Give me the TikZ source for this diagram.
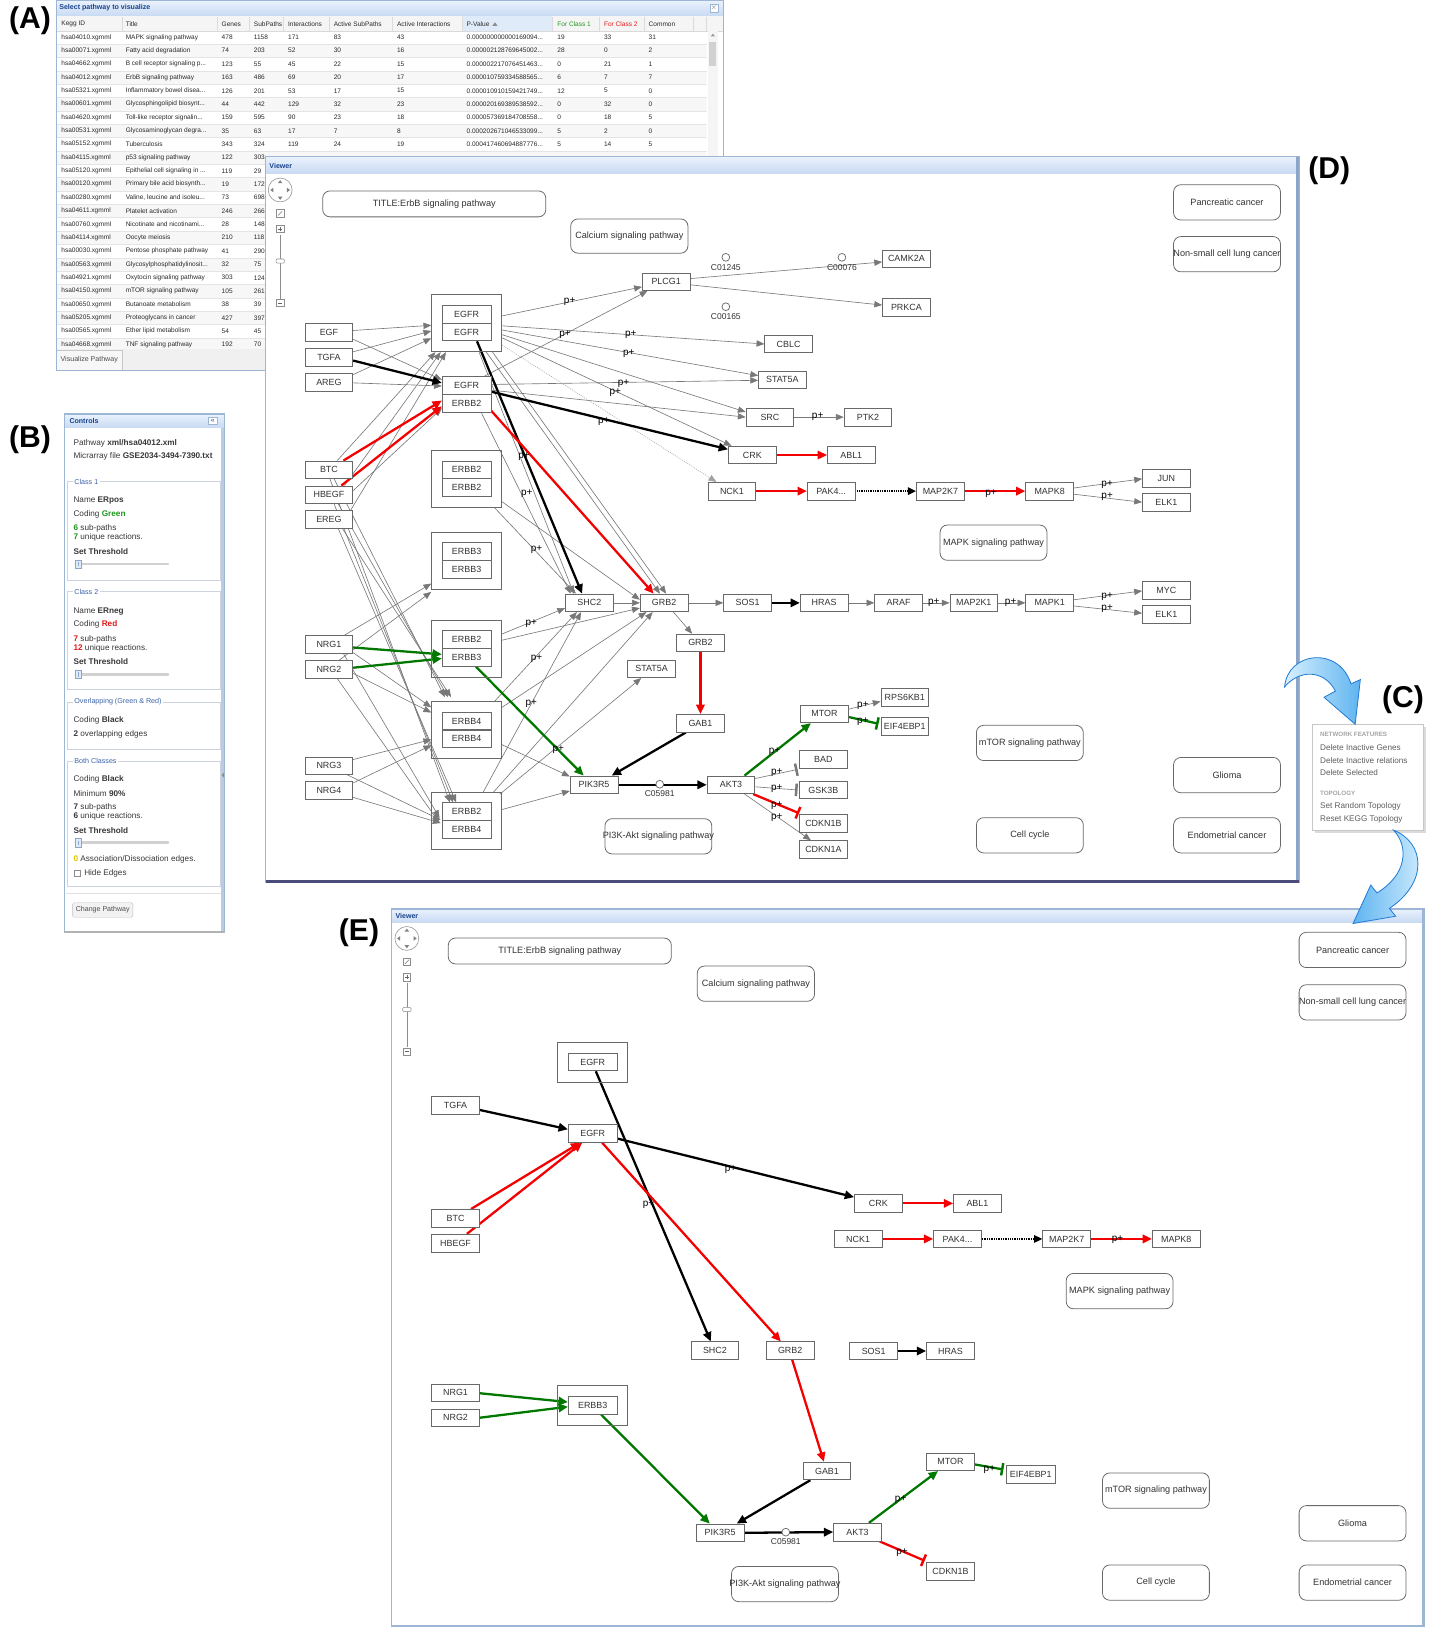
\documentclass[tikz,border=0pt]{standalone}
\usepackage{fontspec}
\setmainfont{Liberation Sans}
\usetikzlibrary{arrows.meta,calc}
\pgfdeclarelayer{bg}
\pgfdeclarelayer{edges}
\pgfsetlayers{bg,edges,main}

\definecolor{boxline}{RGB}{105,105,105}
\definecolor{boxtext}{RGB}{50,50,50}
\definecolor{edgegrey}{RGB}{120,120,120}
\definecolor{kred}{RGB}{245,0,0}
\definecolor{kgreen}{RGB}{0,120,0}
\definecolor{winline}{RGB}{158,182,214}
\definecolor{winedge}{RGB}{140,165,200}
\definecolor{bartop}{RGB}{234,242,253}
\definecolor{barbot}{RGB}{200,218,243}
\definecolor{wintitle}{RGB}{24,66,140}
\definecolor{celltext}{RGB}{40,40,40}
\definecolor{rowline}{RGB}{228,228,228}
\definecolor{headblue}{RGB}{224,235,250}
\definecolor{legendblue}{RGB}{60,100,170}
\definecolor{fieldline}{RGB}{205,212,224}
\definecolor{okgreen}{RGB}{30,150,30}
\definecolor{badred}{RGB}{225,25,25}
\definecolor{zeroyellow}{RGB}{225,195,0}
\definecolor{menugrey}{RGB}{95,95,95}
\definecolor{menuhead}{RGB}{165,165,165}
\definecolor{arrowfill}{RGB}{95,180,240}
\definecolor{arrowdark}{RGB}{35,125,215}
\definecolor{arrowlight}{RGB}{215,240,255}

\newcommand\elide{...}

\tikzset{
  gene/.style={draw=boxline, fill=white, line width=0.75pt, minimum width=46pt,
    minimum height=17pt, inner sep=0pt, text=boxtext, font=\fontsize{8.6}{9}\selectfont},
  shell/.style={draw=boxline, line width=0.75pt, minimum width=67.4pt, inner sep=0pt},
  pathbox/.style={draw=boxline, fill=white, rounded corners=7pt, line width=0.75pt,
    minimum width=103pt, minimum height=34pt, inner sep=0pt, text=boxtext,
    font=\fontsize{8.8}{9}\selectfont},
  cpd/.style={circle, draw=boxline, fill=white, line width=0.7pt, minimum size=7.5pt, inner sep=0pt},
  cpdname/.style={text=boxtext, font=\fontsize{8.2}{9}\selectfont, inner sep=0pt},
  plink/.style={draw=edgegrey, line width=0.6pt, -{Triangle[length=7.5pt,width=6pt]}},
  faint/.style={draw=edgegrey!70, line width=0.5pt, dash pattern=on 1pt off 1pt, -{Triangle[length=7.5pt,width=6pt]}},
  kline/.style={draw=black, line width=2.2pt, -{Triangle[length=9pt,width=8pt]}},
  rline/.style={draw=kred, line width=2.2pt, -{Triangle[length=9pt,width=8pt]}},
  gline/.style={draw=kgreen, line width=2.2pt, -{Triangle[length=9pt,width=8pt]}},
  dotline/.style={draw=black, line width=2.2pt, dash pattern=on 0.9pt off 0.8pt, -{Triangle[length=8pt,width=7pt]}},
  ginhib/.style={draw=edgegrey, line width=0.6pt, -{Bar[width=12pt,line width=2.4pt]}},
  rinhib/.style={draw=kred, line width=2.2pt, -{Bar[width=12pt,line width=2.4pt]}},
  ninhib/.style={draw=kgreen, line width=2.2pt, -{Bar[width=12pt,line width=2.4pt]}},
  pp/.style={text=black, font=\fontsize{9.6}{10}\selectfont, inner sep=0pt},
  panel/.style={font=\fontsize{29}{30}\selectfont\bfseries, text=black, inner sep=0pt},
  cell/.style={anchor=west, inner sep=0pt, text=celltext, font=\fontsize{6.3}{7}\selectfont},
  ctl/.style={anchor=west, inner sep=0pt, text=black!78, font=\fontsize{7.9}{8.5}\selectfont},
  legend/.style={anchor=west, inner sep=1.5pt, fill=white, text=legendblue, font=\fontsize{6.9}{7}\selectfont},
  menuitem/.style={anchor=west, inner sep=0pt, text=menugrey, font=\fontsize{7.9}{8.5}\selectfont},
  menuhd/.style={anchor=west, inner sep=0pt, text=menuhead, font=\fontsize{6}{6.5}\selectfont\bfseries},
  wtitle/.style={anchor=west, inner sep=0pt, text=wintitle, font=\fontsize{6.8}{7}\selectfont\bfseries},
}

% zoom / pan control of a viewer window
\newcommand\viewernav[2]{%
  \draw[black!40, fill=white, line width=0.6pt] (#1,#2) circle (11.5);
  \fill[black!50] (#1-2.2,#2-6.5) -- (#1+2.2,#2-6.5) -- (#1,#2-9.5) -- cycle;
  \fill[black!50] (#1-2.2,#2+6.5) -- (#1+2.2,#2+6.5) -- (#1,#2+9.5) -- cycle;
  \fill[black!50] (#1-6.5,#2-2.2) -- (#1-6.5,#2+2.2) -- (#1-9.5,#2) -- cycle;
  \fill[black!50] (#1+6.5,#2-2.2) -- (#1+6.5,#2+2.2) -- (#1+9.5,#2) -- cycle;
  \draw[black!45, line width=0.5pt, fill=white] (#1-3.5,#2+19) rectangle (#1+3.5,#2+26);
  \draw[black!55, line width=0.5pt] (#1-2,#2+24.5) -- (#1+2,#2+20.5);
  \draw[black!45, line width=0.5pt] (#1,#2+43) -- (#1,#2+105);
  \draw[black!45, line width=0.5pt, fill=white] (#1-3.5,#2+34) rectangle (#1+3.5,#2+41);
  \draw[black!60, line width=0.6pt] (#1-2,#2+37.5) -- (#1+2,#2+37.5) (#1,#2+35.5) -- (#1,#2+39.5);
  \draw[black!45, line width=0.5pt, fill=white, rounded corners=1pt] (#1-4,#2+66.5) rectangle (#1+4,#2+70.5);
  \draw[black!45, line width=0.5pt, fill=white] (#1-3.5,#2+105.5) rectangle (#1+3.5,#2+112.5);
  \draw[black!60, line width=0.6pt] (#1-2,#2+109) -- (#1+2,#2+109);
}

\begin{document}
\begin{tikzpicture}[x=1pt,y=-1pt]
\useasboundingbox (0,0) rectangle (1386,1568);

\begin{pgfonlayer}{bg}
\fill[white] (0,0) rectangle (1386,1568);

%================ pathway table window
\fill[white] (54,0) rectangle (697,357);
\shade[top color=bartop, bottom color=barbot] (54,0) rectangle (697,15.5);
\node[wtitle] (aTitle) at (57,7.8) {Select pathway to visualize};
\node[draw=winline, fill=white, minimum size=8pt, inner sep=0pt, text=black!60] (aClose) at (688,7.8) {\fontsize{7}{7}\selectfont$\times$};
\fill[black!4] (54,15.5) rectangle (697,30);
\fill[headblue] (445,15.5) rectangle (532,30);
\draw[black!15] (54,30) -- (697,30);
\foreach \x in {118,209,240,273,317,378,445,532,577,621,668,681}
  \draw[black!14, line width=0.4pt] (\x,16) -- (\x,30);
\node[cell] (h1) at (59,23) {Kegg ID};
\node[cell] (h2) at (121,23) {Title};
\node[cell] (h3) at (213.5,23) {Genes};
\node[cell] (h4) at (244.5,23) {SubPaths};
\node[cell] (h5) at (277.5,23) {Interactions};
\node[cell] (h6) at (321.5,23) {Active SubPaths};
\node[cell] (h7) at (382.5,23) {Active Interactions};
\node[cell] (h8) at (449.5,23) {P-Value};
\fill[black!45] (474.5,25) -- (479.5,25) -- (477,21.5) -- cycle;
\node[cell, text=okgreen] (h9) at (537,23) {For Class 1};
\node[cell, text=badred] (h10) at (582,23) {For Class 2};
\node[cell] (h11) at (625,23) {Common};
\begin{scope}
  \clip (54,30) rectangle (681,336.5);
  \foreach \i in {2,4,...,24}
    \fill[black!3] (54,{29.6+12.87*(\i-1)}) rectangle (681,{29.6+12.87*\i});
  \foreach \i in {1,...,24}
    \draw[rowline, line width=0.4pt] (54,{29.6+12.87*\i}) -- (681,{29.6+12.87*\i});
  \foreach \vi/\vid/\vti/\vg/\vs/\vin/\vas/\vai/\vp/\vca/\vcb/\vcm in {
    1/hsa04010/MAPK signaling pathway/478/1158/171/83/43/0.000000000000169094\elide/19/33/31,
    2/hsa00071/Fatty acid degradation/74/203/52/30/16/0.000002128769645002\elide/28/0/2,
    3/hsa04662/B cell receptor signaling p\elide/123/55/45/22/15/0.000002217076451463\elide/0/21/1,
    4/hsa04012/ErbB signaling pathway/163/486/69/20/17/0.000010759334588565\elide/6/7/7,
    5/hsa05321/Inflammatory bowel disea\elide/126/201/53/17/15/0.000010910159421749\elide/12/5/0,
    6/hsa00601/Glycosphingolipid biosynt\elide/44/442/129/32/23/0.000020169389538592\elide/0/32/0,
    7/hsa04620/Toll-like receptor signalin\elide/159/595/90/23/18/0.000057369184708558\elide/0/18/5,
    8/hsa00531/Glycosaminoglycan degra\elide/35/63/17/7/8/0.000202671046533099\elide/5/2/0,
    9/hsa05152/Tuberculosis/343/324/119/24/19/0.000417460694887776\elide/5/14/5}{
    \node[cell] (r\vi c1) at (59,{36+12.87*(\vi-1)}) {\vid.xgmml};
    \node[cell] (r\vi c2) at (121,{36+12.87*(\vi-1)}) {\vti};
    \node[cell] (r\vi c3) at (213.5,{36+12.87*(\vi-1)}) {\vg};
    \node[cell] (r\vi c4) at (244.5,{36+12.87*(\vi-1)}) {\vs};
    \node[cell] (r\vi c5) at (277.5,{36+12.87*(\vi-1)}) {\vin};
    \node[cell] (r\vi c6) at (321.5,{36+12.87*(\vi-1)}) {\vas};
    \node[cell] (r\vi c7) at (382.5,{36+12.87*(\vi-1)}) {\vai};
    \node[cell] (r\vi c8) at (449.5,{36+12.87*(\vi-1)}) {\vp};
    \node[cell] (r\vi c9) at (537,{36+12.87*(\vi-1)}) {\vca};
    \node[cell] (r\vi c10) at (582,{36+12.87*(\vi-1)}) {\vcb};
    \node[cell] (r\vi c11) at (625,{36+12.87*(\vi-1)}) {\vcm};
  }
  \foreach \vi/\vid/\vti/\vg/\vs in {
    10/hsa04115/p53 signaling pathway/122/303,
    11/hsa05120/Epithelial cell signaling in \elide/119/29,
    12/hsa00120/Primary bile acid biosynth\elide/19/172,
    {13/hsa00280/Valine, leucine and isoleu\elide/73/698},
    14/hsa04611/Platelet activation/246/266,
    15/hsa00760/Nicotinate and nicotinami\elide/28/148,
    16/hsa04114/Oocyte meiosis/210/118,
    17/hsa00030/Pentose phosphate pathway/41/290,
    18/hsa00563/Glycosylphosphatidylinosit\elide/32/75,
    19/hsa04921/Oxytocin signaling pathway/303/124,
    20/hsa04150/mTOR signaling pathway/105/261,
    21/hsa00650/Butanoate metabolism/38/39,
    22/hsa05205/Proteoglycans in cancer/427/397,
    23/hsa00565/Ether lipid metabolism/54/45,
    24/hsa04668/TNF signaling pathway/192/70}{
    \node[cell] (r\vi c1) at (59,{36+12.87*(\vi-1)}) {\vid.xgmml};
    \node[cell] (r\vi c2) at (121,{36+12.87*(\vi-1)}) {\vti};
    \node[cell] (r\vi c3) at (213.5,{36+12.87*(\vi-1)}) {\vg};
    \node[cell] (r\vi c4) at (244.5,{36+12.87*(\vi-1)}) {\vs};
  }
\end{scope}
% scroll bar
\fill[black!4] (682,30) rectangle (692,336);
\fill[black!18] (683.5,40) rectangle (690.5,64);
\fill[black!40] (685,35) -- (689,35) -- (687,32.5) -- cycle;
% footer with button
\fill[black!6] (54,336.5) rectangle (697,357);
\node[draw=black!22, fill=black!3, minimum width=63pt, minimum height=19pt, inner sep=0pt,
  text=black!70, font=\fontsize{6.8}{7}\selectfont] (aVis) at (86,347) {Visualize Pathway};
\draw[winline, line width=1pt] (54,0) rectangle (697,357);

%================ controls window
\fill[white] (62,399) rectangle (216,898);
\shade[top color=bartop, bottom color=barbot] (62,399) rectangle (216,412);
\node[wtitle] (bTitle) at (66.8,405.8) {Controls};
\node[draw=winline, fill=white, minimum width=8pt, minimum height=7pt, inner sep=0pt,
  text=wintitle, font=\fontsize{6.5}{7}\selectfont] (bCollapse) at (205,405.8) {«};
\node[ctl] (bPath) at (70.7,427.3) {Pathway \textbf{xml/hsa04012.xml}};
\node[ctl] (bFile) at (70.7,440.2) {Micrarray file \textbf{GSE2034-3494-7390.txt}};
% class 1
\draw[fieldline, line width=0.6pt] (64.5,464.3) rectangle (212.5,559);
\node[legend] (bL1) at (70,464.3) {Class 1};
\node[ctl] (bN1) at (70.7,482.6) {Name \textbf{ERpos}};
\node[ctl] (bC1) at (70.7,495.7) {Coding \textcolor{okgreen}{\textbf{Green}}};
\node[ctl] (bS1) at (70.7,509.2) {\textcolor{okgreen}{\textbf{6}} sub-paths};
\node[ctl] (bU1) at (70.7,517.9) {\textcolor{okgreen}{\textbf{7}} unique reactions.};
\node[ctl] (bT1) at (70.7,531.1) {\textbf{Set Threshold}};
% class 2
\draw[fieldline, line width=0.6pt] (64.5,570.3) rectangle (212.5,664.4);
\node[legend] (bL2) at (70,570.3) {Class 2};
\node[ctl] (bN2) at (70.7,589) {Name \textbf{ERneg}};
\node[ctl] (bC2) at (70.7,601.8) {Coding \textcolor{badred}{\textbf{Red}}};
\node[ctl] (bS2) at (70.7,615.9) {\textcolor{badred}{\textbf{7}} sub-paths};
\node[ctl] (bU2) at (70.7,624.4) {\textcolor{badred}{\textbf{12}} unique reactions.};
\node[ctl] (bT2) at (70.7,637.1) {\textbf{Set Threshold}};
% overlapping
\draw[fieldline, line width=0.6pt] (64.5,676.5) rectangle (212.5,722);
\node[legend] (bL3) at (70,676.5) {Overlapping (Green \& Red)};
\node[ctl] (bC3) at (70.7,694.6) {Coding \textbf{Black}};
\node[ctl] (bO3) at (70.7,707.5) {\textbf{2} overlapping edges};
% both classes
\draw[fieldline, line width=0.6pt] (64.5,733.5) rectangle (212.5,854);
\node[legend] (bL4) at (70,733.5) {Both Classes};
\node[ctl] (bC4) at (70.7,751.2) {Coding \textbf{Black}};
\node[ctl] (bM4) at (70.7,764.7) {Minimum \textbf{90\%}};
\node[ctl] (bS4) at (70.7,778.2) {\textbf{7} sub-paths};
\node[ctl] (bU4) at (70.7,786.6) {\textbf{6} unique reactions.};
\node[ctl] (bT4) at (70.7,800) {\textbf{Set Threshold}};
\node[ctl] (bA4) at (70.7,828.3) {\textcolor{zeroyellow}{\textbf{0}} Association/Dissociation edges.};
\draw[black!45, fill=white, line width=0.5pt] (71.3,838.6) rectangle (77.6,844.9);
\node[ctl] (bH4) at (81,841.8) {Hide Edges};
% threshold sliders
\foreach \sy in {543.6,650,812.2}{
  \draw[black!18, line width=2.6pt, line cap=round] (73,\sy) -- (162,\sy);
  \draw[fill=headblue, draw=winedge, line width=0.5pt] (72.3,\sy-4) rectangle (78.7,\sy+4);
  \draw[winedge, line width=0.5pt] (75.5,\sy-2) -- (75.5,\sy+2);
}
\draw[black!12, line width=0.6pt] (64,861) -- (213,861);
\node[draw=black!25, fill=black!5, rounded corners=1.5pt, minimum width=58pt, minimum height=14pt,
  inner sep=0pt, text=black!70, font=\fontsize{6.8}{7}\selectfont] (bChange) at (99,877) {Change Pathway};
\fill[winline!70] (213,412) rectangle (216.5,898);
\fill[black!45] (215.8,744.5) -- (215.8,749.5) -- (213.6,747) -- cycle;
\draw[winline, line width=1pt] (62,399) rectangle (216.5,898);
\draw[black!30, line width=2pt] (62,898) -- (216.5,898);

%================ viewer window, full pathway
\fill[white] (256,151) rectangle (1252,850);
\shade[top color=bartop, bottom color=barbot] (256,151) rectangle (1252,167);
\node[wtitle] (dViewer) at (259.5,159.5) {Viewer};
\draw[winline, line width=1.2pt] (256,151) rectangle (1252,850);
\draw[winedge, line width=3pt] (1250.5,151) -- (1250.5,850);
\draw[black!55!blue!40!gray, line width=2.6pt] (256,849.5) -- (1252,849.5);
\viewernav{270}{183.1}

%================ viewer window, reduced pathway
\fill[white] (377,876) rectangle (1373,1566);
\shade[top color=bartop, bottom color=barbot] (377,876) rectangle (1373,889);
\node[wtitle] (eViewer) at (381,882.5) {Viewer};
\draw[winline, line width=1.2pt] (377,876) rectangle (1373,1567);
\draw[winline, line width=3pt] (1371.5,876) -- (1371.5,1568);
\viewernav{392.1}{904.4}

%================ context menu
\fill[black!14] (1267.5,700.5) rectangle (1374.5,802.5);
\draw[black!22, fill=white, line width=0.6pt] (1265,698) rectangle (1372,800);
\end{pgfonlayer}

%================ panel labels
\node[panel] (labA) at (29,20) {(A)};
\node[panel] (labB) at (29,424) {(B)};
\node[panel] (labC) at (1352,674) {(C)};
\node[panel] (labD) at (1281,165) {(D)};
\node[panel] (labE) at (346,899) {(E)};

% menu entries
\node[menuhd] (cH1) at (1272,707.5) {NETWORK FEATURES};
\node[menuitem] (cI1) at (1272,720.3) {Delete Inactive Genes};
\node[menuitem] (cI2) at (1272,732.5) {Delete Inactive relations};
\node[menuitem] (cI3) at (1272,744.8) {Delete Selected};
\node[menuhd] (cH2) at (1272,764.7) {TOPOLOGY};
\node[menuitem] (cI4) at (1272,777.5) {Set Random Topology};
\node[menuitem] (cI5) at (1272,789.7) {Reset KEGG Topology};

%================ full ErbB pathway
\node[pathbox, minimum width=215pt, minimum height=25pt] (dTitle) at (418.5,196.5) {TITLE:ErbB signaling pathway};
\node[pathbox, minimum width=113pt, minimum height=33pt] (dCalc) at (606.5,227.5) {\makebox[0pt]{Calcium signaling pathway}};
\node[pathbox] (dPanc) at (1182.5,195) {\makebox[0pt]{Pancreatic cancer}};
\node[pathbox] (dNsclc) at (1182.5,245) {\makebox[0pt]{Non-small cell lung cancer}};
\node[pathbox] (dMapkP) at (957.5,523) {\makebox[0pt]{MAPK signaling pathway}};
\node[pathbox] (dPi3kP) at (634.5,806) {\makebox[0pt]{PI3K-Akt signaling pathway}};
\node[pathbox] (dMtorP) at (992.5,716) {\makebox[0pt]{mTOR signaling pathway}};
\node[pathbox] (dGlioma) at (1182.5,747) {\makebox[0pt]{Glioma}};
\node[pathbox] (dCell) at (992.5,805) {\makebox[0pt]{Cell cycle}};
\node[pathbox] (dEndo) at (1182.5,805) {\makebox[0pt]{Endometrial cancer}};

\node[gene] (dEGF) at (317,320.5) {EGF};
\node[gene] (dTGFA) at (317,344.5) {TGFA};
\node[gene] (dAREG) at (317,368.5) {AREG};
\node[gene] (dBTC) at (317,452.7) {BTC};
\node[gene] (dHBEGF) at (317,476.8) {HBEGF};
\node[gene] (dEREG) at (317,500.5) {EREG};
\node[gene] (dNRG1) at (317,621) {NRG1};
\node[gene] (dNRG2) at (317,645) {NRG2};
\node[gene] (dNRG3) at (317,738) {NRG3};
\node[gene] (dNRG4) at (317,761.5) {NRG4};

\node[shell, minimum height=55pt] (dEE) at (449.7,311.5) {};
\node[gene, minimum width=47pt] (dEE1) at (449.7,303) {EGFR};
\node[gene, minimum width=47pt] (dEE2) at (449.7,320) {EGFR};
\node[gene, minimum width=47pt] (dER1) at (449.7,371.5) {EGFR};
\node[gene, minimum width=47pt] (dER2) at (449.7,388.5) {ERBB2};
\node[shell, minimum height=55pt] (dB22) at (449.7,461.5) {};
\node[gene, minimum width=47pt] (dB22a) at (449.7,452.7) {ERBB2};
\node[gene, minimum width=47pt] (dB22b) at (449.7,470) {ERBB2};
\node[shell, minimum height=55pt] (dB33) at (449.7,540.4) {};
\node[gene, minimum width=47pt] (dB33a) at (449.7,531.3) {ERBB3};
\node[gene, minimum width=47pt] (dB33b) at (449.7,548.6) {ERBB3};
\node[shell, minimum height=55pt] (dB23) at (449.7,625) {};
\node[gene, minimum width=47pt] (dB23a) at (449.7,616.4) {ERBB2};
\node[gene, minimum width=47pt] (dB23b) at (449.7,633.6) {ERBB3};
\node[shell, minimum height=55pt] (dB44) at (449.7,703.7) {};
\node[gene, minimum width=47pt] (dB44a) at (449.7,694.8) {ERBB4};
\node[gene, minimum width=47pt] (dB44b) at (449.7,712) {ERBB4};
\node[shell, minimum height=55pt] (dB24) at (449.7,791.2) {};
\node[gene, minimum width=47pt] (dB24a) at (449.7,782.2) {ERBB2};
\node[gene, minimum width=47pt] (dB24b) at (449.7,799.6) {ERBB4};

\node[gene] (dPLCG1) at (642,271.5) {PLCG1};
\node[gene] (dCAMK2A) at (873.5,249.5) {CAMK2A};
\node[gene] (dPRKCA) at (873.5,296.5) {PRKCA};
\node[gene] (dCBLC) at (760,331.5) {CBLC};
\node[gene] (dSTAT5Aa) at (754,366) {STAT5A};
\node[gene] (dSRC) at (742,402) {SRC};
\node[gene] (dPTK2) at (836.5,402) {PTK2};
\node[gene] (dCRK) at (725,438.5) {CRK};
\node[gene] (dABL1) at (820.4,438.5) {ABL1};
\node[gene] (dNCK1) at (705.4,473.3) {NCK1};
\node[gene] (dPAK4) at (801,473.3) {PAK4...};
\node[gene] (dMAP2K7) at (906.3,473.3) {MAP2K7};
\node[gene] (dMAPK8) at (1011.6,473.3) {MAPK8};
\node[gene] (dJUN) at (1124,461) {JUN};
\node[gene] (dELK1a) at (1124,484) {ELK1};
\node[gene] (dMYC) at (1124,569) {MYC};
\node[gene] (dELK1b) at (1124,592) {ELK1};
\node[gene] (dSHC2) at (568,581) {SHC2};
\node[gene] (dGRB2a) at (640,581) {GRB2};
\node[gene] (dSOS1) at (720.5,581) {SOS1};
\node[gene] (dHRAS) at (794.2,581) {HRAS};
\node[gene] (dARAF) at (866,581) {ARAF};
\node[gene] (dMAP2K1) at (938.5,581) {MAP2K1};
\node[gene] (dMAPK1) at (1011.6,581) {MAPK1};
\node[gene] (dGRB2b) at (675,619.6) {GRB2};
\node[gene] (dSTAT5Ab) at (628,644.6) {STAT5A};
\node[gene] (dGAB1) at (675,697) {GAB1};
\node[gene] (dPIK3R5) at (572.5,756.3) {PIK3R5};
\node[gene] (dAKT3) at (704.5,756.3) {AKT3};
\node[gene] (dMTOR) at (794.5,688) {MTOR};
\node[gene] (dRPS6KB1) at (872,672) {RPS6KB1};
\node[gene] (dEIF4EBP1) at (872,700) {EIF4EBP1};
\node[gene] (dBAD) at (793.5,732) {BAD};
\node[gene] (dGSK3B) at (793.5,761.3) {GSK3B};
\node[gene] (dCDKN1B) at (793.5,793.7) {CDKN1B};
\node[gene] (dCDKN1A) at (793.5,818.7) {CDKN1A};

\node[cpd] (dC01245) at (699.5,248) {};
\node[cpdname] (dC01245l) at (699.5,257.5) {C01245};
\node[cpd] (dC00076) at (811.4,248) {};
\node[cpdname] (dC00076l) at (811.4,257.5) {C00076};
\node[cpd] (dC00165) at (699.5,295.6) {};
\node[cpdname] (dC00165l) at (699.5,304.8) {C00165};

\begin{pgfonlayer}{edges}
% ligand binding
\draw[plink] ($(dEGF.east)+(0,-2)$) -- ($(dEE.west)+(0,2)$);
\draw[plink] ($(dTGFA.east)+(0,-5.5)$) -- ($(dEE.west)+(0,7.5)$);
\draw[plink] ($(dAREG.east)+(0,-7.5)$) -- ($(dEE.west)+(0,14.5)$);
\draw[plink] ($(dEGF.east)+(0,6.5)$) -- ($(dER1.west)+(0,-5.5)$);
\draw[plink] ($(dAREG.east)+(0,0.5)$) -- ($(dER1.west)+(0,0.5)$);
\draw[plink] ($(dBTC.north)+(8,0)$) -- ($(dEE.south)+(-30,0)$);
\draw[plink] ($(dHBEGF.north)+(15,0)$) -- ($(dEE.south)+(-25,0)$);
\draw[plink] ($(dEREG.north)+(21,0)$) -- ($(dEE.south)+(-20,0)$);
\draw[plink] ($(dHBEGF.east)+(0,-4)$) -- ($(dER2.west)+(0,5)$);
\draw[plink] ($(dBTC.south)+(5,0)$) -- ($(dB44.north)+(-21,-4)$);
\draw[plink] ($(dHBEGF.south)+(9,0)$) -- ($(dB44.north)+(-18,-4)$);
\draw[plink] ($(dEREG.south)+(13,0)$) -- ($(dB44.north)+(-15,-4)$);
\draw[plink] ($(dBTC.south)+(1,0)$) -- ($(dB24a.north)+(-16,0)$);
\draw[plink] ($(dHBEGF.south)+(5,0)$) -- ($(dB24a.north)+(-13,0)$);
\draw[plink] ($(dEREG.south)+(9,0)$) -- ($(dB24a.north)+(-10,0)$);
\draw[plink] ($(dNRG1.north)+(15,0)$) -- ($(dB33.west)+(0,22)$);
\draw[plink] ($(dNRG2.north)+(10,0)$) -- ($(dB33.west)+(0,30)$);
\draw[plink] ($(dNRG1.east)+(0,8)$) -- ($(dB44.west)+(0,-22)$);
\draw[plink] ($(dNRG2.east)+(0,4)$) -- ($(dB44.west)+(0,-17)$);
\draw[plink] ($(dNRG1.south)+(14,0)$) -- ($(dB24.west)+(8,-3)$);
\draw[plink] ($(dNRG2.south)+(8,0)$) -- ($(dB24.west)+(8,2)$);
\draw[plink] ($(dNRG3.east)+(0,-6)$) -- ($(dB44.west)+(0,9)$);
\draw[plink] ($(dNRG4.east)+(0,-7)$) -- ($(dB44.west)+(0,14.5)$);
\draw[plink] ($(dNRG3.south)+(18,0)$) -- ($(dB24.west)+(9,-1)$);
\draw[plink] ($(dNRG4.east)+(0,7)$) -- ($(dB24.west)+(9,2)$);
\draw[kline] ($(dTGFA.east)+(0,3)$) -- ($(dER1.west)+(0,-2.5)$);
\draw[rline] ($(dBTC.north)+(14,0)$) -- ($(dER2.west)+(0,-2.5)$);
\draw[rline] ($(dHBEGF.north)+(12,0)$) -- ($(dER2.west)+(0,3)$);
\draw[gline] ($(dNRG1.east)+(0,3)$) -- ($(dB23b.west)+(0,-3)$);
\draw[gline] ($(dNRG2.east)+(0,-1.5)$) -- ($(dB23b.west)+(0,1)$);
% receptor signalling
\draw[plink] ($(dEE.east)+(0,-7)$) -- ($(dPLCG1.west)+(0,5)$);
\draw[plink] ($(dER1.north)+(17,0)$) -- ($(dPLCG1.south)+(-18,0)$);
\draw[plink] ($(dEE.east)+(0,2.5)$) -- (dCBLC.west);
\draw[plink] ($(dEE.east)+(0,6.5)$) -- ($(dSTAT5Aa.west)+(0,-4)$);
\draw[plink] ($(dER1.east)+(0,-1)$) -- ($(dSTAT5Aa.west)+(0,0.5)$);
\draw[plink] ($(dEE.east)+(0,11)$) -- ($(dSRC.west)+(0,-5)$);
\draw[plink] ($(dER1.east)+(0,4.5)$) -- (dSRC.west);
\draw[plink] ($(dEE.east)+(0,14)$) -- ($(dCRK.north)+(-20,0)$);
\draw[faint] ($(dEE.east)+(0,21)$) -- ($(dNCK1.north)+(-15,0)$);
\draw[plink] ($(dEE.south)+(12,0)$) -- ($(dSHC2.north)+(-15,0)$);
\draw[plink] ($(dEE.south)+(19,0)$) -- ($(dGRB2a.north)+(-4,0)$);
\draw[plink] ($(dEE.south)+(25,0)$) -- ($(dGRB2a.north)+(2,0)$);
\draw[plink] ($(dER2.south)+(14,0)$) -- ($(dSHC2.north)+(-18,0)$);
\draw[plink] ($(dB22.south)+(27,0)$) -- ($(dSHC2.north)+(-13,0)$);
\draw[plink] ($(dB22.east)+(0,22)$) -- ($(dGRB2a.west)+(0,-3)$);
\draw[plink] ($(dB23.east)+(0,-14)$) -- ($(dSHC2.west)+(0,5)$);
\draw[plink] ($(dB23.east)+(0,-8)$) -- ($(dGRB2a.west)+(0,5)$);
\draw[plink] ($(dB44.north)+(27,0)$) -- ($(dSHC2.south)+(-12,0)$);
\draw[plink] ($(dB44.east)+(0,-22)$) -- ($(dGRB2a.south)+(-17,0)$);
\draw[plink] ($(dB24.north)+(16,0)$) -- ($(dSHC2.south)+(-8,0)$);
\draw[plink] ($(dB24.north)+(26,0)$) -- ($(dGRB2a.south)+(-11,0)$);
\draw[plink] ($(dB44.east)+(0,14)$) -- ($(dPIK3R5.west)+(0,-8)$);
\draw[plink] ($(dB24.east)+(0,-11)$) -- ($(dPIK3R5.west)+(0,6)$);
\draw[plink] ($(dB24.north)+(32,2)$) -- ($(dSTAT5Ab.south)+(-10,0)$);
\draw[kline] ($(dER1.east)+(0,6)$) -- ($(dCRK.west)+(0,-5.5)$);
\draw[kline] ($(dEE2.south)+(10,0)$) -- ($(dSHC2.north)+(-7,0)$);
\draw[rline] ($(dER2.east)+(0,7.5)$) -- ($(dGRB2a.north)+(-10,0)$);
\draw[gline] ($(dB23b.south)+(9,0)$) -- ($(dPIK3R5.north)+(-10,0)$);
% downstream cascades
\draw[plink] (dSHC2.east) -- (dGRB2a.west);
\draw[plink] (dGRB2a.east) -- (dSOS1.west);
\draw[plink] ($(dGRB2a.south)+(9,0)$) -- ($(dGRB2b.north)+(-8,0)$);
\draw[rline] (dGRB2b.south) -- (dGAB1.north);
\draw[kline] ($(dGAB1.south)+(-14,0)$) -- ($(dPIK3R5.north)+(17,0)$);
\draw[kline] (dPIK3R5.east) -- (dAKT3.west);
\draw[kline] (dSOS1.east) -- (dHRAS.west);
\draw[plink] (dHRAS.east) -- (dARAF.west);
\draw[plink] (dARAF.east) -- (dMAP2K1.west);
\draw[plink] (dMAP2K1.east) -- (dMAPK1.west);
\draw[plink] ($(dMAPK1.east)+(0,-3)$) -- ($(dMYC.west)+(0,0.5)$);
\draw[plink] ($(dMAPK1.east)+(0,3)$) -- ($(dELK1b.west)+(0,-1)$);
\draw[plink] ($(dMAPK8.east)+(0,-3)$) -- ($(dJUN.west)+(0,0.5)$);
\draw[plink] ($(dMAPK8.east)+(0,3)$) -- (dELK1a.west);
\draw[rline] (dMAP2K7.east) -- (dMAPK8.west);
\draw[dotline] (dPAK4.east) -- (dMAP2K7.west);
\draw[rline] (dNCK1.east) -- (dPAK4.west);
\draw[rline] (dCRK.east) -- (dABL1.west);
\draw[plink] (dSRC.east) -- (dPTK2.west);
\draw[plink] ($(dPLCG1.east)+(0,-3)$) -- ($(dCAMK2A.west)+(0,3)$);
\draw[plink] ($(dPLCG1.east)+(0,3)$) -- ($(dPRKCA.west)+(0,-2.5)$);
\draw[gline] ($(dAKT3.north)+(13,0)$) -- ($(dMTOR.south)+(-13,0)$);
\draw[ginhib] ($(dAKT3.east)+(0,-6)$) -- ($(dBAD.west)+(-1.5,9.5)$);
\draw[ginhib] ($(dAKT3.east)+(0,2)$) -- ($(dGSK3B.west)+(-1.5,0)$);
\draw[rinhib] ($(dAKT3.east)+(-2,9)$) -- ($(dCDKN1B.west)+(0,-10)$);
\draw[plink] ($(dAKT3.south)+(13,0)$) -- ($(dCDKN1A.north)+(-12,0)$);
\draw[plink] ($(dMTOR.east)+(0,-4.5)$) -- ($(dRPS6KB1.west)+(0,4)$);
\draw[ninhib] ($(dMTOR.east)+(0,3)$) -- ($(dEIF4EBP1.west)+(-2,-2.5)$);
\end{pgfonlayer}

\node[cpd] (dC05981) at (635.8,755.8) {};
\node[cpdname] (dC05981l) at (635.8,764.9) {C05981};

% phosphorylation marks
\foreach \px/\py [count=\k] in {549/291, 544.6/323, 608/323, 606/341, 601/369.5, 593/378.5,
   582/406, 505/440, 507.6/475.5, 517/530, 512/601.5, 517/634.5, 512/678, 538/722,
   788/402, 955/475.5, 1067/467, 1067/479, 900/581, 974/581, 1067/575, 1067/587,
   746.4/724.5, 748.7/745, 748.7/760, 748.7/776, 748.7/788.2, 831.6/680, 831.6/695}
  \node[pp] (dp\k) at (\px,\py) {p+};

%================ reduced ErbB pathway
\node[pathbox, minimum width=215pt, minimum height=25pt] (eTitle) at (539.5,916.5) {TITLE:ErbB signaling pathway};
\node[pathbox, minimum width=113pt, minimum height=34pt] (eCalc) at (728.5,948) {\makebox[0pt]{Calcium signaling pathway}};
\node[pathbox] (ePanc) at (1303.5,915.5) {\makebox[0pt]{Pancreatic cancer}};
\node[pathbox] (eNsclc) at (1303.5,966) {\makebox[0pt]{Non-small cell lung cancer}};
\node[pathbox] (eMapkP) at (1079,1244.3) {\makebox[0pt]{MAPK signaling pathway}};
\node[pathbox] (eMtorP) at (1114,1436.5) {\makebox[0pt]{mTOR signaling pathway}};
\node[pathbox] (ePi3kP) at (756.5,1526.6) {\makebox[0pt]{PI3K-Akt signaling pathway}};
\node[pathbox] (eCell) at (1114,1525.2) {\makebox[0pt]{Cell cycle}};
\node[pathbox] (eGlioma) at (1303.5,1468) {\makebox[0pt]{Glioma}};
\node[pathbox] (eEndo) at (1303.5,1525.2) {\makebox[0pt]{Endometrial cancer}};

\node[shell, minimum height=38pt] (eEGFRc) at (571.2,1023.8) {};
\node[gene, minimum width=47pt] (eEGFRa) at (571.2,1023.5) {EGFR};
\node[gene] (eTGFA) at (439,1065.2) {TGFA};
\node[gene, minimum width=47pt] (eEGFRb) at (571.2,1092.3) {EGFR};
\node[gene] (eBTC) at (439,1174) {BTC};
\node[gene] (eHBEGF) at (439,1198) {HBEGF};
\node[gene] (eCRK) at (846.5,1159.7) {CRK};
\node[gene] (eABL1) at (942,1159.7) {ABL1};
\node[gene] (eNCK1) at (827,1194) {NCK1};
\node[gene] (ePAK4) at (922.8,1194) {PAK4...};
\node[gene] (eMAP2K7) at (1028,1194) {MAP2K7};
\node[gene] (eMAPK8) at (1133.6,1194) {MAPK8};
\node[gene] (eSHC2) at (689,1301.7) {SHC2};
\node[gene] (eGRB2) at (761.5,1301.7) {GRB2};
\node[gene] (eSOS1) at (842,1302) {SOS1};
\node[gene] (eHRAS) at (916,1302) {HRAS};
\node[gene] (eNRG1) at (439,1342.2) {NRG1};
\node[gene] (eNRG2) at (439,1366.3) {NRG2};
\node[shell, minimum height=38pt] (eERBB3c) at (571.2,1354.4) {};
\node[gene, minimum width=47pt] (eERBB3) at (571.2,1354.2) {ERBB3};
\node[gene] (eGAB1) at (797,1417.6) {GAB1};
\node[gene] (eMTOR) at (916,1408.8) {MTOR};
\node[gene, minimum width=48pt] (eEIF4EBP1) at (993.4,1421.2) {EIF4EBP1};
\node[gene] (ePIK3R5) at (694,1477.2) {PIK3R5};
\node[gene] (eAKT3) at (826.4,1476.5) {AKT3};
\node[gene] (eCDKN1B) at (916,1514.1) {CDKN1B};

\begin{pgfonlayer}{edges}
\draw[kline] ($(eEGFRa.south)+(3,0)$) -- ($(eSHC2.north)+(-4,0)$);
\draw[kline] ($(eTGFA.east)+(0,4.5)$) -- ($(eEGFRb.west)+(0,-4)$);
\draw[rline] ($(eBTC.north)+(15,0)$) -- ($(eEGFRb.south)+(-12,0)$);
\draw[rline] ($(eHBEGF.north)+(11,0)$) -- ($(eEGFRb.south)+(-10,0)$);
\draw[kline] ($(eEGFRb.east)+(0,5)$) -- ($(eCRK.west)+(0,-6)$);
\draw[rline] ($(eEGFRb.south)+(9,0)$) -- ($(eGRB2.north)+(-9,0)$);
\draw[gline] ($(eNRG1.east)+(0,0.5)$) -- ($(eERBB3.west)+(0,-3)$);
\draw[gline] (eNRG2.east) -- ($(eERBB3.west)+(0,1.5)$);
\draw[gline] ($(eERBB3.south)+(8,0)$) -- ($(ePIK3R5.north)+(-10,0)$);
\draw[rline] ($(eGRB2.south)+(2,0)$) -- ($(eGAB1.north)+(-3,0)$);
\draw[kline] ($(eGAB1.south)+(-16,0)$) -- ($(ePIK3R5.north)+(16,0)$);
\draw[kline] (ePIK3R5.east) -- (eAKT3.west);
\draw[kline] (eSOS1.east) -- (eHRAS.west);
\draw[rline] (eCRK.east) -- (eABL1.west);
\draw[rline] (eNCK1.east) -- (ePAK4.west);
\draw[dotline] (ePAK4.east) -- (eMAP2K7.west);
\draw[rline] (eMAP2K7.east) -- (eMAPK8.west);
\draw[gline] ($(eAKT3.north)+(11,0)$) -- ($(eMTOR.south)+(-12,0)$);
\draw[rinhib] ($(eAKT3.east)+(-2,9)$) -- ($(eCDKN1B.west)+(-1.5,-10)$);
\draw[ninhib] ($(eMTOR.east)+(0,2.5)$) -- ($(eEIF4EBP1.west)+(-2,-5)$);
\end{pgfonlayer}

\node[cpd] (eC05981) at (757.3,1476.6) {};
\node[cpdname] (eC05981l) at (757.3,1485.8) {C05981};
\foreach \px/\py [count=\k] in {704/1127.7, 625/1161.4, 1077/1195, 868/1445, 869.3/1496.3, 953.5/1416}
  \node[pp] (ep\k) at (\px,\py) {p+};

%================ hand-over arrows
\shadedraw[left color=arrowlight, right color=arrowfill, draw=arrowdark, line width=0.8pt]
  (1238,662) .. controls (1241,628) and (1290,622) .. (1302,659)
  -- (1311,655) -- (1306,698) -- (1276,672) -- (1287,666)
  .. controls (1276,645) and (1252,645) .. (1238,662) -- cycle;
\shadedraw[left color=arrowfill, right color=arrowlight, draw=arrowdark, line width=0.8pt]
  (1343,800) .. controls (1373,812) and (1377,850) .. (1339,875.5)
  -- (1345,883) -- (1304,890) -- (1321,853) -- (1327,860.5)
  .. controls (1356,843) and (1358,816) .. (1343,800) -- cycle;
\end{tikzpicture}
\end{document}
